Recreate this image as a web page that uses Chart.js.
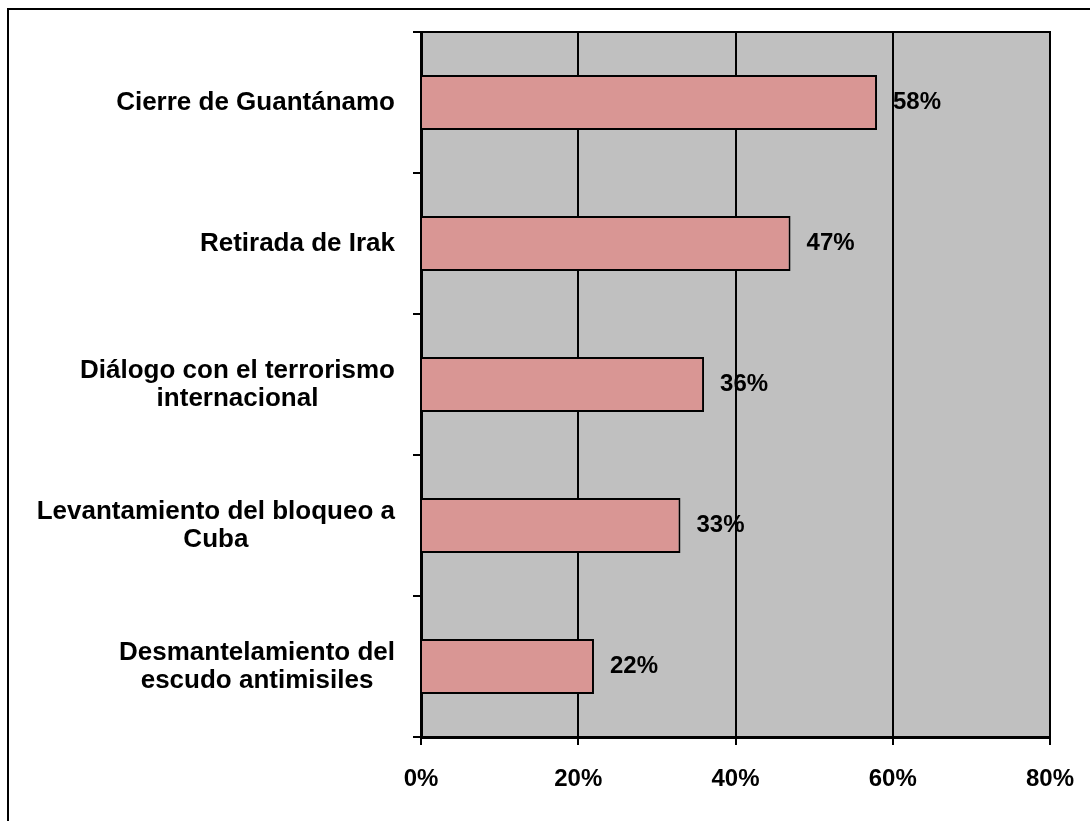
<!DOCTYPE html>
<html>
<head>
<meta charset="utf-8">
<script src="https://cdn.jsdelivr.net/npm/chart.js@4.4.1/dist/chart.umd.min.js"></script>
<style>
    body { margin: 0; background: #fff; }
    #wrap { width: 1090px; height: 821px; }
</style>
</head>
<body>
<div id="wrap"><canvas id="barChart" width="1090" height="821"></canvas></div>
<script>
const categories = [
    ["Cierre de Guantánamo"],
    ["Retirada de Irak"],
    ["Diálogo con el terrorismo", "internacional"],
    ["Levantamiento del bloqueo a", "Cuba"],
    ["Desmantelamiento del", "escudo antimisiles"]
];
const values = [58, 47, 36, 33, 22];
const xTicks = [0, 20, 40, 60, 80];

const FONT = '"Liberation Sans", Arial, sans-serif';

// frame + grey plot background
const backgroundPlugin = {
    id: 'background',
    beforeDraw(chart) {
        const ctx = chart.ctx;
        const area = chart.chartArea;
        ctx.save();
        ctx.strokeStyle = '#000';
        ctx.lineWidth = 2;
        ctx.strokeRect(8, 9, 1200, 1200);
        ctx.fillStyle = '#C0C0C0';
        ctx.fillRect(area.left, area.top, area.right - area.left, area.bottom - area.top);
        ctx.restore();
    },
    afterDraw(chart) {
        const ctx = chart.ctx;
        const area = chart.chartArea;
        ctx.save();
        ctx.strokeStyle = '#000';
        ctx.lineWidth = 2;
        ctx.beginPath();
        ctx.moveTo(area.left - 8, area.top);
        ctx.lineTo(area.right + 1, area.top);
        ctx.stroke();
        ctx.restore();
    }
};

// category labels: right block, lines centred on each other
const categoryLabels = {
    id: 'categoryLabels',
    afterDraw(chart) {
        const ctx = chart.ctx;
        const yScale = chart.scales.y;
        const rightEdge = chart.chartArea.left - 26;
        const lineHeight = 28;
        ctx.save();
        ctx.font = 'bold 26px ' + FONT;
        ctx.fillStyle = '#000';
        ctx.textAlign = 'center';
        ctx.textBaseline = 'middle';
        categories.forEach((lines, i) => {
            const widest = Math.max(...lines.map(l => ctx.measureText(l).width));
            const cx = rightEdge - widest / 2;
            const cy = yScale.getPixelForValue(i);
            const startY = cy - (lines.length - 1) * lineHeight / 2;
            lines.forEach((l, j) => ctx.fillText(l, cx, startY + j * lineHeight));
        });
        ctx.restore();
    }
};

// value labels at the end of each bar
const valueLabels = {
    id: 'valueLabels',
    afterDatasetsDraw(chart) {
        const ctx = chart.ctx;
        const meta = chart.getDatasetMeta(0);
        ctx.save();
        ctx.font = 'bold 24px ' + FONT;
        ctx.fillStyle = '#000';
        ctx.textAlign = 'left';
        ctx.textBaseline = 'middle';
        meta.data.forEach((bar, i) => {
            ctx.fillText(values[i] + '%', bar.x + 16, bar.y);
        });
        ctx.restore();
    }
};

const ctx = document.getElementById('barChart').getContext('2d');
new Chart(ctx, {
    type: 'bar',
    data: {
        labels: categories.map(c => c.join(' ')),
        datasets: [{
            data: values,
            backgroundColor: '#D99694',
            borderColor: '#000',
            borderWidth: 2,
            categoryPercentage: 1,
            barPercentage: 0.39
        }]
    },
    options: {
        indexAxis: 'y',
        responsive: false,
        animation: false,
        layout: { padding: { top: 32, right: 40, left: 0, bottom: 0 } },
        plugins: {
            legend: { display: false },
            tooltip: { enabled: false }
        },
        scales: {
            x: {
                min: 0,
                max: 80,
                afterBuildTicks(scale) {
                    scale.ticks = xTicks.map(v => ({ value: v }));
                },
                afterFit(scale) {
                    scale.height = 84;
                    scale.paddingLeft = 0;
                    scale.paddingRight = 0;
                },
                ticks: {
                    callback: v => v + '%',
                    color: '#000',
                    font: { family: FONT, size: 24, weight: 'bold' },
                    padding: 20,
                    maxRotation: 0
                },
                grid: {
                    color: '#000',
                    lineWidth: 2,
                    tickLength: 8,
                    drawTicks: true
                },
                border: { display: true, color: '#000', width: 3 }
            },
            y: {
                afterFit(scale) { scale.width = 421; },
                ticks: { display: false },
                grid: {
                    offset: true,
                    drawOnChartArea: false,
                    drawTicks: true,
                    tickLength: 8,
                    color: '#000',
                    lineWidth: 2
                },
                border: { display: true, color: '#000', width: 3 }
            }
        }
    },
    plugins: [backgroundPlugin, categoryLabels, valueLabels]
});
</script>
</body>
</html>
